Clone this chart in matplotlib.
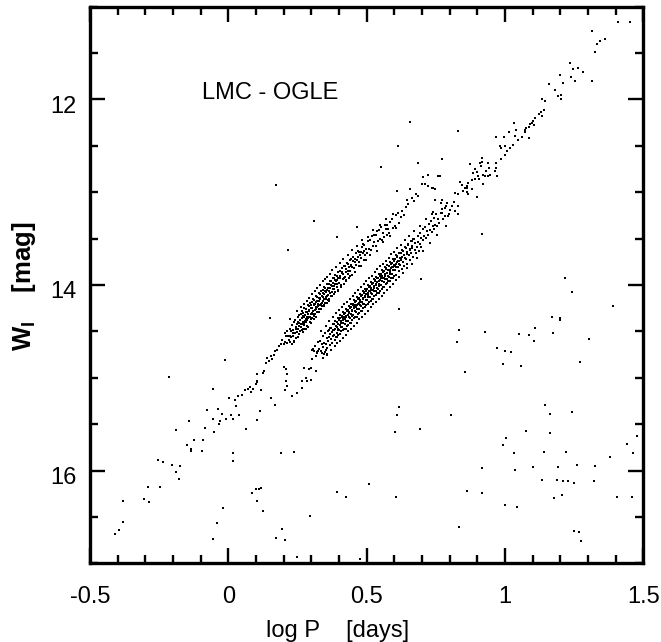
import matplotlib
matplotlib.use('Agg')
import matplotlib.pyplot as plt
import numpy as np
from matplotlib.ticker import MultipleLocator, FuncFormatter
from matplotlib.transforms import ScaledTranslation

# (log P, W_I)
# first overtone, short period tail
fo_sparse = [
    (-0.410, 16.68), (-0.395, 16.64), (-0.380, 16.55), (-0.380, 16.33),
    (-0.306, 16.31), (-0.287, 16.34), (-0.290, 16.18), (-0.248, 16.18),
    (-0.253, 15.89), (-0.236, 15.91), (-0.203, 15.94), (-0.191, 16.02),
    (-0.179, 16.09), (-0.173, 15.95), (-0.149, 15.73), (-0.134, 15.77),
    (-0.134, 15.79), (-0.125, 15.67), (-0.092, 15.67), (-0.095, 15.79),
    (-0.078, 15.35), (-0.086, 15.54), (-0.053, 15.58), (-0.056, 15.44),
    (-0.038, 15.34), (-0.035, 15.50), (-0.032, 15.47), (-0.023, 15.39),
    (-0.008, 15.44), (0.010, 15.40), (0.016, 15.44), (0.004, 15.22),
    (0.025, 15.24), (0.028, 15.30), (0.034, 15.20), (0.040, 15.40),
    (0.049, 15.19), (0.061, 15.13), (0.070, 15.12), (0.078, 15.10),
    (0.082, 15.15), (0.088, 15.12), (0.100, 15.07), (0.102, 15.03),
    (0.103, 15.05), (0.105, 14.96), (0.117, 15.13), (0.124, 14.95),
    (0.129, 14.93), (0.135, 14.84), (0.141, 14.79), (0.147, 14.82),
    (0.153, 14.77), (0.159, 14.80), (0.165, 14.75), (0.169, 14.71),
    (0.177, 14.70), (0.183, 14.66), (0.190, 14.64), (0.195, 14.59),
]

# first overtone, dense part of the sequence
fo_dense = [
    (0.201, 14.64), (0.204, 14.52), (0.206, 14.61), (0.209, 14.55),
    (0.211, 14.50), (0.213, 14.63), (0.216, 14.55), (0.218, 14.59),
    (0.221, 14.61), (0.223, 14.47), (0.226, 14.56), (0.228, 14.50), (0.229, 14.64),
    (0.231, 14.43), (0.233, 14.55), (0.235, 14.48), (0.237, 14.60), (0.239, 14.40),
    (0.241, 14.52), (0.242, 14.38), (0.244, 14.47), (0.246, 14.57), (0.248, 14.42), (0.249, 14.51),
    (0.251, 14.35), (0.252, 14.47), (0.254, 14.41), (0.255, 14.53), (0.256, 14.32), (0.257, 14.44), (0.258, 14.50), (0.259, 14.38),
    (0.261, 14.45), (0.262, 14.31), (0.263, 14.42), (0.265, 14.36), (0.266, 14.49), (0.267, 14.28), (0.268, 14.40), (0.269, 14.47),
    (0.271, 14.30), (0.272, 14.43), (0.273, 14.35), (0.275, 14.25), (0.276, 14.39), (0.277, 14.47), (0.278, 14.32), (0.279, 14.37),
    (0.281, 14.40), (0.282, 14.26), (0.283, 14.34), (0.285, 14.44), (0.286, 14.29), (0.287, 14.22), (0.288, 14.36), (0.289, 14.31),
    (0.291, 14.23), (0.292, 14.35), (0.293, 14.28), (0.294, 14.40), (0.296, 14.19), (0.297, 14.31), (0.298, 14.25), (0.299, 14.37),
    (0.301, 14.30), (0.302, 14.18), (0.303, 14.25), (0.304, 14.36), (0.306, 14.15), (0.307, 14.28), (0.308, 14.22), (0.309, 14.33),
    (0.311, 14.16), (0.312, 14.27), (0.313, 14.20), (0.314, 14.31), (0.316, 14.12), (0.317, 14.24), (0.318, 14.18), (0.319, 14.29),
    (0.321, 14.24), (0.322, 14.13), (0.323, 14.20), (0.325, 14.29), (0.326, 14.09), (0.327, 14.17), (0.328, 14.26), (0.329, 14.14),
    (0.331, 14.10), (0.332, 14.22), (0.333, 14.15), (0.335, 14.26), (0.336, 14.06), (0.337, 14.19), (0.338, 14.12), (0.339, 14.23),
    (0.341, 14.17), (0.342, 14.05), (0.343, 14.13), (0.345, 14.22), (0.346, 14.02), (0.347, 14.10), (0.348, 14.19), (0.349, 14.07),
    (0.351, 14.03), (0.352, 14.15), (0.353, 14.08), (0.355, 14.19), (0.356, 13.99), (0.357, 14.12), (0.358, 14.05), (0.359, 14.16),
    (0.361, 14.11), (0.362, 13.99), (0.364, 14.06), (0.365, 14.15), (0.367, 13.96), (0.368, 14.03), (0.369, 14.09),
    (0.371, 13.96), (0.373, 14.08), (0.374, 14.01), (0.376, 14.12), (0.377, 13.92), (0.378, 14.04), (0.379, 13.98),
    (0.381, 14.04), (0.382, 13.92), (0.384, 13.99), (0.386, 14.08), (0.387, 13.89), (0.389, 13.96),
    (0.391, 13.90), (0.393, 14.02), (0.394, 13.95), (0.396, 14.05), (0.398, 13.86), (0.399, 13.98),
    (0.401, 13.98), (0.403, 13.85), (0.405, 13.93), (0.407, 14.02), (0.409, 13.87),
    (0.411, 13.82), (0.413, 13.94), (0.415, 13.88), (0.417, 13.99), (0.419, 13.79),
    (0.421, 13.91), (0.423, 13.80), (0.425, 13.86), (0.427, 13.96), (0.429, 13.76),
    (0.431, 13.77), (0.433, 13.88), (0.435, 13.81), (0.437, 13.92), (0.439, 13.73),
    (0.441, 13.85), (0.443, 13.72), (0.445, 13.79), (0.447, 13.89), (0.449, 13.74),
    (0.451, 13.70), (0.454, 13.82), (0.456, 13.75), (0.458, 13.86),
    (0.461, 13.78), (0.463, 13.66), (0.466, 13.73), (0.468, 13.63),
    (0.471, 13.64), (0.473, 13.75), (0.476, 13.68), (0.478, 13.79),
    (0.481, 13.71), (0.484, 13.59), (0.486, 13.66), (0.488, 13.56),
    (0.491, 13.57), (0.494, 13.68), (0.496, 13.61), (0.498, 13.73),
    (0.502, 13.65), (0.505, 13.53), (0.508, 13.61),
    (0.512, 13.51), (0.515, 13.62), (0.518, 13.47),
    (0.522, 13.58), (0.525, 13.46), (0.528, 13.54),
    (0.532, 13.46), (0.535, 13.58), (0.538, 13.42),
    (0.542, 13.53), (0.545, 13.41), (0.548, 13.50),
    (0.552, 13.38), (0.555, 13.51), (0.558, 13.44),
    (0.562, 13.48), (0.565, 13.35), (0.568, 13.40),
    (0.572, 13.35), (0.575, 13.46), (0.578, 13.40),
    (0.582, 13.44), (0.586, 13.32), (0.592, 13.29), (0.596, 13.39),
    (0.602, 13.36), (0.606, 13.25), (0.612, 13.22), (0.616, 13.33),
]

# first overtone, stars on the edges and between the rows above
fo_edge = [
    (0.223, 14.37), (0.238, 14.61), (0.247, 14.28), (0.253, 14.56),
    (0.262, 14.24), (0.268, 14.51), (0.274, 14.21), (0.279, 14.47),
    (0.284, 14.17), (0.289, 14.45), (0.293, 14.14), (0.297, 14.41),
    (0.304, 14.10), (0.309, 14.37), (0.313, 14.06), (0.318, 14.34),
    (0.322, 14.03), (0.327, 14.29), (0.331, 14.00), (0.336, 14.26),
    (0.341, 13.96), (0.344, 14.23), (0.349, 13.94), (0.353, 14.19),
    (0.358, 13.91), (0.362, 14.17), (0.366, 13.88), (0.371, 14.12),
    (0.376, 13.84), (0.383, 14.10), (0.388, 13.81), (0.395, 14.06),
    (0.402, 13.76), (0.408, 14.00), (0.416, 13.72), (0.424, 13.95),
    (0.432, 13.68), (0.440, 13.90), (0.448, 13.62), (0.457, 13.86),
    (0.465, 13.58), (0.474, 13.80), (0.483, 13.52), (0.492, 13.73),
    (0.503, 13.48), (0.513, 13.68), (0.524, 13.41), (0.536, 13.63),
    (0.547, 13.35), (0.559, 13.54), (0.571, 13.29), (0.583, 13.47),
    (0.596, 13.23), (0.607, 13.39),
    (0.2245, 14.55), (0.2335, 14.52), (0.2435, 14.45), (0.2525, 14.40),
    (0.2645, 14.42), (0.2705, 14.33), (0.2745, 14.41), (0.2805, 14.29),
    (0.2845, 14.38), (0.2905, 14.27), (0.2955, 14.34), (0.3005, 14.22),
    (0.3055, 14.31), (0.3105, 14.21), (0.3155, 14.26), (0.3205, 14.17),
    (0.3245, 14.23), (0.3305, 14.14), (0.3345, 14.20), (0.3405, 14.09),
    (0.3445, 14.15), (0.3505, 14.07), (0.3545, 14.13), (0.3605, 14.03),
    (0.3665, 14.09), (0.3725, 14.00), (0.3805, 14.01), (0.3855, 13.95),
    (0.3925, 13.99), (0.3975, 13.92),
    (0.4035, 13.90), (0.4125, 13.86), (0.4185, 13.92), (0.4265, 13.83),
    (0.4335, 13.85), (0.4425, 13.78), (0.4475, 13.81), (0.4585, 13.72),
    (0.4685, 13.70), (0.4795, 13.64), (0.4895, 13.63),
]

# first overtone, long period end
fo_upper = [
    (0.623, 13.27), (0.628, 13.20), (0.634, 13.25), (0.641, 13.16),
    (0.648, 13.13), (0.644, 13.08), (0.657, 12.97), (0.663, 13.06),
    (0.687, 13.04), (0.670, 13.10), (0.679, 13.02), (0.609, 12.99),
    (0.703, 12.84), (0.723, 12.81), (0.759, 12.82), (0.711, 12.91),
    (0.723, 12.93), (0.735, 12.95), (0.747, 12.96), (0.687, 12.68),
    (0.705, 12.84), (0.699, 12.91), (0.741, 12.95), (0.765, 12.83),
]

# fundamental mode, short period end
fu_faint = [
    (0.201, 14.88), (0.207, 14.91), (0.211, 14.96), (0.207, 15.04),
    (0.213, 15.09), (0.205, 15.13), (0.231, 15.20), (0.249, 15.16),
    (0.267, 15.11), (0.273, 14.89), (0.291, 14.91), (0.315, 14.93),
    (0.309, 14.71), (0.321, 14.73), (0.339, 14.73), (0.357, 14.75),
    (0.297, 15.02), (0.285, 15.04), (0.267, 15.04), (0.153, 15.22),
    (0.169, 15.29), (0.103, 15.46), (0.115, 15.36), (0.064, 15.55),
    (0.279, 15.00), (0.297, 14.90), (0.303, 14.70), (0.325, 14.71),
    (0.345, 14.74), (0.354, 14.70),
]

# fundamental mode, dense part of the sequence
fu_dense = [
    (0.302, 14.80), (0.307, 14.69), (0.312, 14.66), (0.317, 14.77),
    (0.321, 14.72), (0.325, 14.61), (0.328, 14.69),
    (0.331, 14.60), (0.334, 14.71), (0.338, 14.64),
    (0.341, 14.67), (0.343, 14.55), (0.346, 14.63), (0.348, 14.72),
    (0.351, 14.52), (0.353, 14.64), (0.355, 14.57), (0.357, 14.68), (0.359, 14.50),
    (0.361, 14.60), (0.362, 14.48), (0.364, 14.56), (0.366, 14.65), (0.367, 14.46), (0.369, 14.53),
    (0.371, 14.46), (0.372, 14.58), (0.374, 14.51), (0.375, 14.62), (0.377, 14.42), (0.378, 14.55), (0.379, 14.48),
    (0.381, 14.54), (0.382, 14.42), (0.383, 14.49), (0.385, 14.59), (0.386, 14.39), (0.387, 14.47), (0.388, 14.56), (0.389, 14.44),
    (0.391, 14.40), (0.392, 14.52), (0.393, 14.45), (0.394, 14.56), (0.395, 14.36), (0.396, 14.48), (0.397, 14.42), (0.398, 14.54), (0.399, 14.38),
    (0.401, 14.48), (0.402, 14.36), (0.403, 14.43), (0.404, 14.53), (0.405, 14.32), (0.406, 14.45), (0.407, 14.39), (0.408, 14.50), (0.409, 14.34),
    (0.411, 14.33), (0.412, 14.45), (0.413, 14.38), (0.414, 14.49), (0.415, 14.29), (0.416, 14.41), (0.417, 14.35), (0.418, 14.47), (0.419, 14.31),
    (0.421, 14.42), (0.422, 14.30), (0.423, 14.37), (0.424, 14.47), (0.425, 14.26), (0.426, 14.39), (0.427, 14.33), (0.428, 14.44), (0.429, 14.28),
    (0.431, 14.27), (0.432, 14.39), (0.433, 14.32), (0.434, 14.43), (0.435, 14.23), (0.436, 14.35), (0.437, 14.29), (0.438, 14.41), (0.439, 14.25),
    (0.441, 14.36), (0.442, 14.24), (0.443, 14.31), (0.444, 14.41), (0.445, 14.20), (0.446, 14.33), (0.447, 14.27), (0.448, 14.38), (0.449, 14.22),
    (0.451, 14.20), (0.452, 14.32), (0.453, 14.25), (0.454, 14.36), (0.455, 14.16), (0.456, 14.28), (0.457, 14.22), (0.458, 14.34), (0.459, 14.18),
    (0.461, 14.29), (0.462, 14.17), (0.463, 14.24), (0.464, 14.34), (0.465, 14.13), (0.466, 14.26), (0.467, 14.20), (0.468, 14.31), (0.469, 14.15),
    (0.471, 14.14), (0.472, 14.26), (0.473, 14.19), (0.474, 14.30), (0.475, 14.10), (0.476, 14.22), (0.477, 14.16), (0.478, 14.28), (0.479, 14.12),
    (0.481, 14.23), (0.482, 14.11), (0.483, 14.18), (0.484, 14.28), (0.485, 14.07), (0.486, 14.20), (0.487, 14.14), (0.488, 14.25), (0.489, 14.09),
    (0.491, 14.08), (0.492, 14.20), (0.493, 14.13), (0.494, 14.24), (0.495, 14.04), (0.496, 14.16), (0.497, 14.10), (0.498, 14.22), (0.499, 14.06),
    (0.501, 14.16), (0.502, 14.04), (0.503, 14.11), (0.504, 14.21), (0.505, 14.00), (0.506, 14.13), (0.507, 14.07), (0.508, 14.18), (0.509, 14.02),
    (0.511, 14.01), (0.512, 14.13), (0.513, 14.06), (0.514, 14.17), (0.515, 13.97), (0.516, 14.09), (0.517, 14.03), (0.518, 14.15), (0.519, 13.99),
    (0.521, 14.10), (0.522, 13.98), (0.523, 14.05), (0.524, 14.15), (0.525, 13.94), (0.526, 14.07), (0.527, 14.01), (0.528, 14.12), (0.529, 13.96),
    (0.531, 13.95), (0.532, 14.07), (0.533, 14.00), (0.534, 14.11), (0.535, 13.91), (0.536, 14.03), (0.537, 13.97), (0.538, 14.09), (0.539, 13.93),
    (0.541, 14.04), (0.542, 13.92), (0.543, 13.99), (0.544, 14.09), (0.545, 13.88), (0.546, 14.01), (0.547, 13.95), (0.548, 14.06), (0.549, 13.90),
    (0.551, 13.88), (0.552, 14.00), (0.553, 13.93), (0.554, 14.04), (0.555, 13.84), (0.556, 13.96), (0.557, 13.90), (0.558, 14.02), (0.559, 13.86),
    (0.561, 13.97), (0.562, 13.85), (0.563, 13.92), (0.564, 14.02), (0.565, 13.81), (0.566, 13.94), (0.567, 13.88), (0.568, 13.99), (0.569, 13.83),
    (0.571, 13.82), (0.572, 13.94), (0.573, 13.87), (0.574, 13.98), (0.575, 13.78), (0.576, 13.90), (0.577, 13.84), (0.578, 13.96), (0.579, 13.80),
    (0.581, 13.91), (0.582, 13.79), (0.583, 13.86), (0.584, 13.96), (0.585, 13.75), (0.586, 13.88), (0.587, 13.82), (0.588, 13.93), (0.589, 13.77),
    (0.591, 13.76), (0.592, 13.88), (0.593, 13.81), (0.594, 13.92), (0.595, 13.72), (0.596, 13.84), (0.597, 13.78), (0.598, 13.90), (0.599, 13.74),
    (0.601, 13.84), (0.602, 13.72), (0.603, 13.79), (0.605, 13.89), (0.606, 13.68), (0.607, 13.81), (0.608, 13.75), (0.609, 13.70),
    (0.611, 13.69), (0.613, 13.81), (0.614, 13.74), (0.615, 13.85), (0.617, 13.65), (0.618, 13.77), (0.619, 13.71),
    (0.621, 13.78), (0.623, 13.66), (0.625, 13.73), (0.626, 13.83), (0.628, 13.62), (0.629, 13.70),
    (0.631, 13.63), (0.633, 13.75), (0.635, 13.68), (0.636, 13.79), (0.638, 13.59), (0.639, 13.71),
    (0.641, 13.72), (0.643, 13.60), (0.645, 13.67), (0.647, 13.77), (0.649, 13.57),
    (0.651, 13.56), (0.653, 13.68), (0.655, 13.61), (0.657, 13.73), (0.659, 13.53),
    (0.661, 13.65), (0.663, 13.53), (0.665, 13.60), (0.667, 13.70), (0.669, 13.50),
    (0.671, 13.50), (0.674, 13.62), (0.676, 13.55), (0.678, 13.66),
    (0.681, 13.59), (0.684, 13.47), (0.686, 13.54), (0.688, 13.63),
    (0.691, 13.44), (0.694, 13.56), (0.696, 13.49), (0.698, 13.59),
    (0.702, 13.52), (0.705, 13.40), (0.708, 13.47),
    (0.712, 13.37), (0.715, 13.49), (0.718, 13.42),
    (0.722, 13.46), (0.725, 13.34), (0.728, 13.41),
    (0.732, 13.31), (0.735, 13.43), (0.738, 13.36),
    (0.742, 13.40), (0.745, 13.28), (0.748, 13.35),
    (0.752, 13.24), (0.755, 13.36), (0.758, 13.29),
    (0.762, 13.33), (0.767, 13.22), (0.772, 13.18), (0.777, 13.29),
    (0.782, 13.26), (0.787, 13.15), (0.792, 13.12), (0.797, 13.23),
]

# fundamental mode, stars on the edges and between the rows above
fu_edge = [
    (0.335, 14.50), (0.342, 14.79), (0.352, 14.44), (0.358, 14.74),
    (0.365, 14.39), (0.372, 14.70), (0.378, 14.34), (0.384, 14.66),
    (0.389, 14.30), (0.394, 14.63), (0.399, 14.27), (0.404, 14.60),
    (0.409, 14.24), (0.414, 14.57), (0.419, 14.21), (0.424, 14.54),
    (0.429, 14.18), (0.434, 14.50), (0.439, 14.15), (0.444, 14.47),
    (0.449, 14.12), (0.454, 14.44), (0.459, 14.09), (0.464, 14.41),
    (0.469, 14.05), (0.474, 14.37), (0.479, 14.02), (0.484, 14.34),
    (0.489, 13.99), (0.494, 14.31), (0.499, 13.96), (0.504, 14.28),
    (0.509, 13.93), (0.514, 14.24), (0.519, 13.90), (0.524, 14.21),
    (0.529, 13.86), (0.534, 14.18), (0.539, 13.83), (0.544, 14.15),
    (0.549, 13.80), (0.554, 14.12), (0.559, 13.77), (0.564, 14.09),
    (0.569, 13.74), (0.574, 14.05), (0.579, 13.71), (0.584, 14.02),
    (0.589, 13.67), (0.594, 13.99), (0.599, 13.64), (0.605, 13.95),
    (0.611, 13.60), (0.618, 13.91), (0.624, 13.57), (0.631, 13.87),
    (0.638, 13.52), (0.646, 13.82), (0.654, 13.47), (0.663, 13.77),
    (0.672, 13.42), (0.681, 13.71), (0.692, 13.36), (0.703, 13.63),
    (0.715, 13.29), (0.728, 13.55), (0.741, 13.21), (0.755, 13.46),
    (0.770, 13.12), (0.786, 13.36),
    (0.3955, 14.47), (0.4065, 14.41), (0.4155, 14.37), (0.4255, 14.35),
    (0.4345, 14.30), (0.4455, 14.28), (0.4545, 14.23), (0.4655, 14.22),
    (0.4745, 14.18), (0.4855, 14.15), (0.4955, 14.12), (0.5055, 14.09),
    (0.5145, 14.05), (0.5255, 14.03), (0.5345, 13.99), (0.5455, 13.96),
    (0.5545, 13.93), (0.5655, 13.90), (0.5745, 13.87), (0.5855, 13.84),
    (0.5945, 13.81), (0.6045, 13.77), (0.6155, 13.74), (0.6255, 13.71),
    (0.6355, 13.68), (0.6455, 13.64), (0.6555, 13.62), (0.6655, 13.58),
]

# fundamental mode, long periods
fu_bright = [
    (0.873, 12.70), (0.891, 12.75), (0.885, 12.79), (0.897, 12.78),
    (0.903, 12.83), (0.906, 12.86), (0.891, 12.86), (0.879, 12.87),
    (0.867, 12.90), (0.861, 12.93), (0.855, 12.95), (0.864, 12.95),
    (0.879, 12.97), (0.843, 12.92), (0.837, 12.89), (0.849, 12.99),
    (0.861, 13.00), (0.867, 13.02), (0.897, 13.05), (0.921, 12.91),
    (0.831, 13.02), (0.821, 13.01), (0.817, 13.11), (0.831, 13.15),
    (0.807, 13.15), (0.801, 13.19), (0.783, 13.17), (0.771, 13.22),
    (0.795, 13.26), (0.819, 13.20), (0.831, 13.24), (0.773, 13.08),
    (0.747, 13.08), (0.735, 13.24),
    (0.915, 12.63), (0.917, 12.67), (0.913, 12.72), (0.909, 12.68),
    (0.939, 12.69), (0.942, 12.74), (0.933, 12.77), (0.921, 12.81),
    (0.945, 12.81), (0.939, 12.83), (0.927, 12.83), (0.971, 12.82),
    (0.966, 12.74), (0.963, 12.77), (0.985, 12.64), (0.969, 12.68),
    (0.981, 12.50), (0.987, 12.52), (1.001, 12.50), (1.017, 12.52),
    (1.029, 12.49), (1.008, 12.56), (0.999, 12.60), (1.041, 12.33),
    (1.014, 12.35), (1.061, 12.40), (1.035, 12.39), (1.047, 12.44),
    (1.085, 12.42), (0.966, 12.41), (0.996, 12.41), (1.032, 12.25),
    (1.109, 12.20), (1.101, 12.23), (1.098, 12.25), (1.104, 12.28),
    (1.089, 12.27), (1.086, 12.30), (1.076, 12.31), (1.071, 12.33),
    (1.073, 12.35), (1.140, 12.11), (1.131, 12.13), (1.122, 12.16),
    (1.133, 12.18), (1.134, 11.99), (1.143, 12.02), (1.203, 11.95),
    (1.191, 11.96), (1.203, 12.00), (1.179, 11.90), (1.158, 11.83),
    (1.209, 11.82), (1.199, 11.74), (1.234, 11.61), (1.245, 11.67),
    (1.263, 11.66), (1.281, 11.70), (1.237, 11.76), (1.252, 11.80),
    (1.313, 11.80), (1.324, 11.49), (1.360, 11.35), (1.345, 11.37),
    (1.331, 11.40), (1.313, 11.26), (1.410, 11.17), (1.450, 11.16),
]

# stars off the two sequences
others = [
    (0.173, 12.92), (0.309, 13.31), (0.216, 13.62), (0.655, 12.24),
    (0.831, 12.34), (0.613, 12.50), (0.551, 12.73), (0.687, 12.69),
    (0.771, 12.64), (0.393, 13.48), (0.465, 13.38), (0.697, 13.94),
    (0.615, 14.26), (0.915, 13.45), (1.215, 13.93), (1.242, 14.08),
    (1.392, 14.23), (1.170, 14.35), (1.197, 14.36), (-0.216, 14.99),
    (-0.012, 14.81), (-0.055, 15.12), (0.151, 14.36), (-0.188, 15.56),
    (-0.143, 15.47), (0.016, 15.81), (0.018, 15.90), (0.190, 15.81),
    (0.237, 15.80), (0.085, 16.24), (0.100, 16.20), (0.112, 16.20),
    (0.117, 16.19), (0.102, 16.33), (0.124, 16.44), (-0.018, 16.40),
    (-0.041, 16.57), (-0.056, 16.74), (0.193, 16.63), (0.174, 16.73),
    (0.205, 16.75), (0.249, 16.93), (0.295, 16.49), (0.393, 16.23),
    (0.426, 16.29), (0.510, 16.15), (0.605, 16.29), (0.603, 15.58),
    (0.609, 15.40), (0.615, 15.31), (0.691, 15.55), (0.803, 15.40),
    (0.857, 14.94), (0.825, 14.61), (0.833, 14.49), (0.927, 14.51),
    (0.971, 14.68), (0.993, 14.85), (1.001, 14.71), (1.020, 14.72),
    (1.049, 14.53), (1.056, 14.87), (1.085, 14.54), (1.104, 14.60),
    (1.110, 14.46), (1.173, 14.52), (1.199, 14.38), (1.272, 14.83),
    (1.302, 14.58), (0.833, 16.61), (0.861, 16.22), (0.915, 16.24),
    (0.918, 15.97), (0.993, 15.73), (1.005, 15.65), (1.031, 15.81),
    (1.035, 15.99), (0.999, 16.37), (1.043, 16.39), (1.077, 15.57),
    (1.100, 15.96), (1.133, 16.10), (1.140, 15.80), (1.146, 15.29),
    (1.163, 15.39), (1.161, 15.60), (1.177, 16.30), (1.188, 16.10),
    (1.191, 15.96), (1.206, 16.26), (1.211, 16.11), (1.222, 15.80),
    (1.227, 16.11), (1.242, 15.37), (1.249, 16.13), (1.260, 15.94),
    (1.248, 16.65), (1.266, 16.66), (1.275, 16.76), (1.320, 16.11),
    (1.326, 15.95), (1.380, 15.85), (1.403, 16.29), (1.440, 15.71),
    (1.460, 16.29), (1.463, 15.81), (1.476, 15.63), (0.475, 16.95),
]

groups = [fo_sparse, fo_dense, fo_edge, fo_upper,
          fu_faint, fu_dense, fu_edge, fu_bright, others]

plt.rcParams['font.family'] = ['Liberation Sans', 'DejaVu Sans']
plt.rcParams['mathtext.fontset'] = 'custom'
plt.rcParams['mathtext.rm'] = 'Liberation Sans'
plt.rcParams['mathtext.bf'] = 'Liberation Sans:bold'

fig = plt.figure(figsize=(6.61, 6.42), dpi=100)
ax = fig.add_axes([0.1362, 0.1226, 0.8371, 0.8670])

for g in groups:
    pts = np.array(g)
    ax.plot(pts[:, 0], pts[:, 1], 's', color='black', ms=2.0, mew=0)

ax.set_xlim(-0.5, 1.5)
ax.set_ylim(17, 11)
ax.xaxis.set_major_locator(MultipleLocator(0.5))
ax.xaxis.set_minor_locator(MultipleLocator(0.1))
ax.yaxis.set_major_locator(MultipleLocator(2))
ax.yaxis.set_minor_locator(MultipleLocator(0.5))
fmt = FuncFormatter(lambda v, p: '%g' % (round(v, 2) + 0.0))
ax.xaxis.set_major_formatter(fmt)
ax.yaxis.set_major_formatter(fmt)

ax.tick_params(which='both', direction='in', top=True, right=True,
               width=1.7, labelsize=17)
ax.tick_params(which='major', length=11)
ax.tick_params(which='minor', length=5.5)
ax.tick_params(axis='x', pad=16.5)
ax.tick_params(axis='y', pad=9.4)
for s in ax.spines.values():
    s.set_linewidth(2.4)

# y tick labels sit a little below their ticks in the original
for lab in ax.get_yticklabels():
    lab.set_transform(lab.get_transform() + ScaledTranslation(0, -0.05, fig.dpi_scale_trans))

ax.text(-0.097, 12.0, 'LMC - OGLE', ha='left', va='baseline', fontsize=17)

fig.text(0.5106, 0.0078, 'log P    [days]', ha='center', va='baseline', fontsize=17)
fig.text(0.036, 0.5545, r'$\mathbf{W_I}$    [mag]', rotation=90, ha='center',
         va='center', fontsize=18.5, fontweight='bold')

fig.savefig('out.png', dpi=100)
